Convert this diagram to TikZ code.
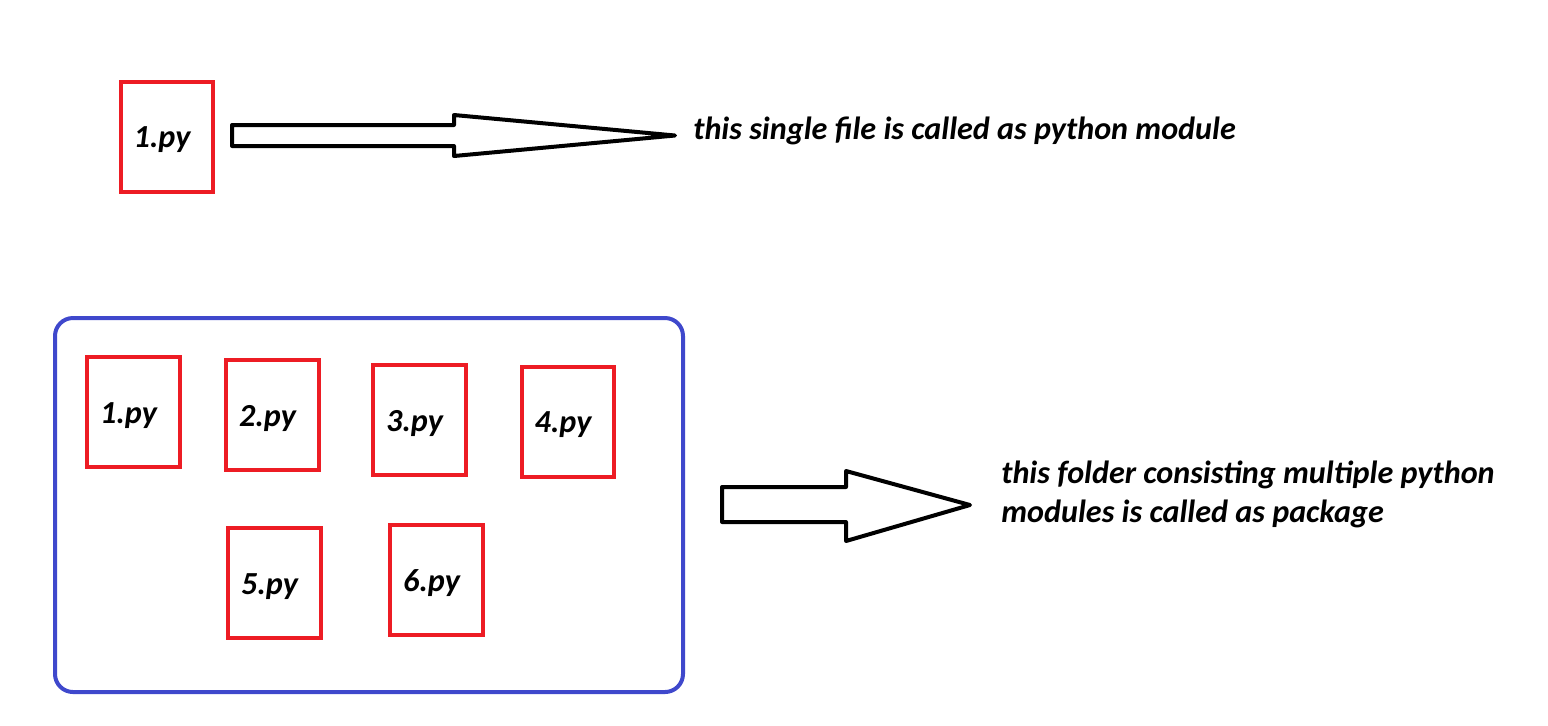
\documentclass[tikz,border=0pt]{standalone}
\usepackage{fontspec}
\setmainfont{Carlito}
\definecolor{filered}{HTML}{ED1C24}
\definecolor{folderblue}{HTML}{3F48CC}
\begin{document}
\begin{tikzpicture}[x=0.02cm,y=-0.02cm]
	\tikzstyle{file node}=[draw=filered,line width=0.08cm,minimum width=1.86cm,minimum height=2.2cm,inner sep=0,font=\fontsize{18.3}{22}\selectfont\bfseries\itshape]
	\tikzstyle{file label}=[xshift=-0.1cm,yshift=-0.07cm,inner sep=0,font=\fontsize{18.3}{22}\selectfont\bfseries\itshape]
	\tikzstyle{hollow arrow}=[draw=black,line width=0.08cm,line join=round,fill=white]
	\tikzstyle{note}=[anchor=west,inner sep=0,align=left,font=\fontsize{18.3}{22.2}\selectfont\bfseries\itshape]
	\useasboundingbox (0,0) rectangle (1548,725);
	% single module
	\node(top1)[file node] at (167,136.5){};
	\node[file label] at (top1){1.py};
	\draw[hollow arrow](232,125)--(454,125)--(454,115)--(675,135.5)--(454,156)--(454,146)--(232,146)--cycle;
	\node(modtext)[note] at (693,131){this single file is called as python module};
	% package folder
	\draw[draw=folderblue,line width=0.08cm,rounded corners=0.36cm](55,318) rectangle (683,692);
	\foreach \n/\x/\y in {1/133.5/412,2/272.5/415,3/419.5/420,4/568/421.5,5/274.5/583,6/436.5/579.5}{
		\node(f\n)[file node] at (\x,\y){};
		\node[file label] at (f\n){\n.py};
	}
	\draw[hollow arrow](722,487)--(846,487)--(846,471)--(970,505)--(846,541)--(846,522)--(722,522)--cycle;
	\node(pkgtext)[note] at (1001,494){this folder consisting multiple python\\modules is called as package};
\end{tikzpicture}
\end{document}
